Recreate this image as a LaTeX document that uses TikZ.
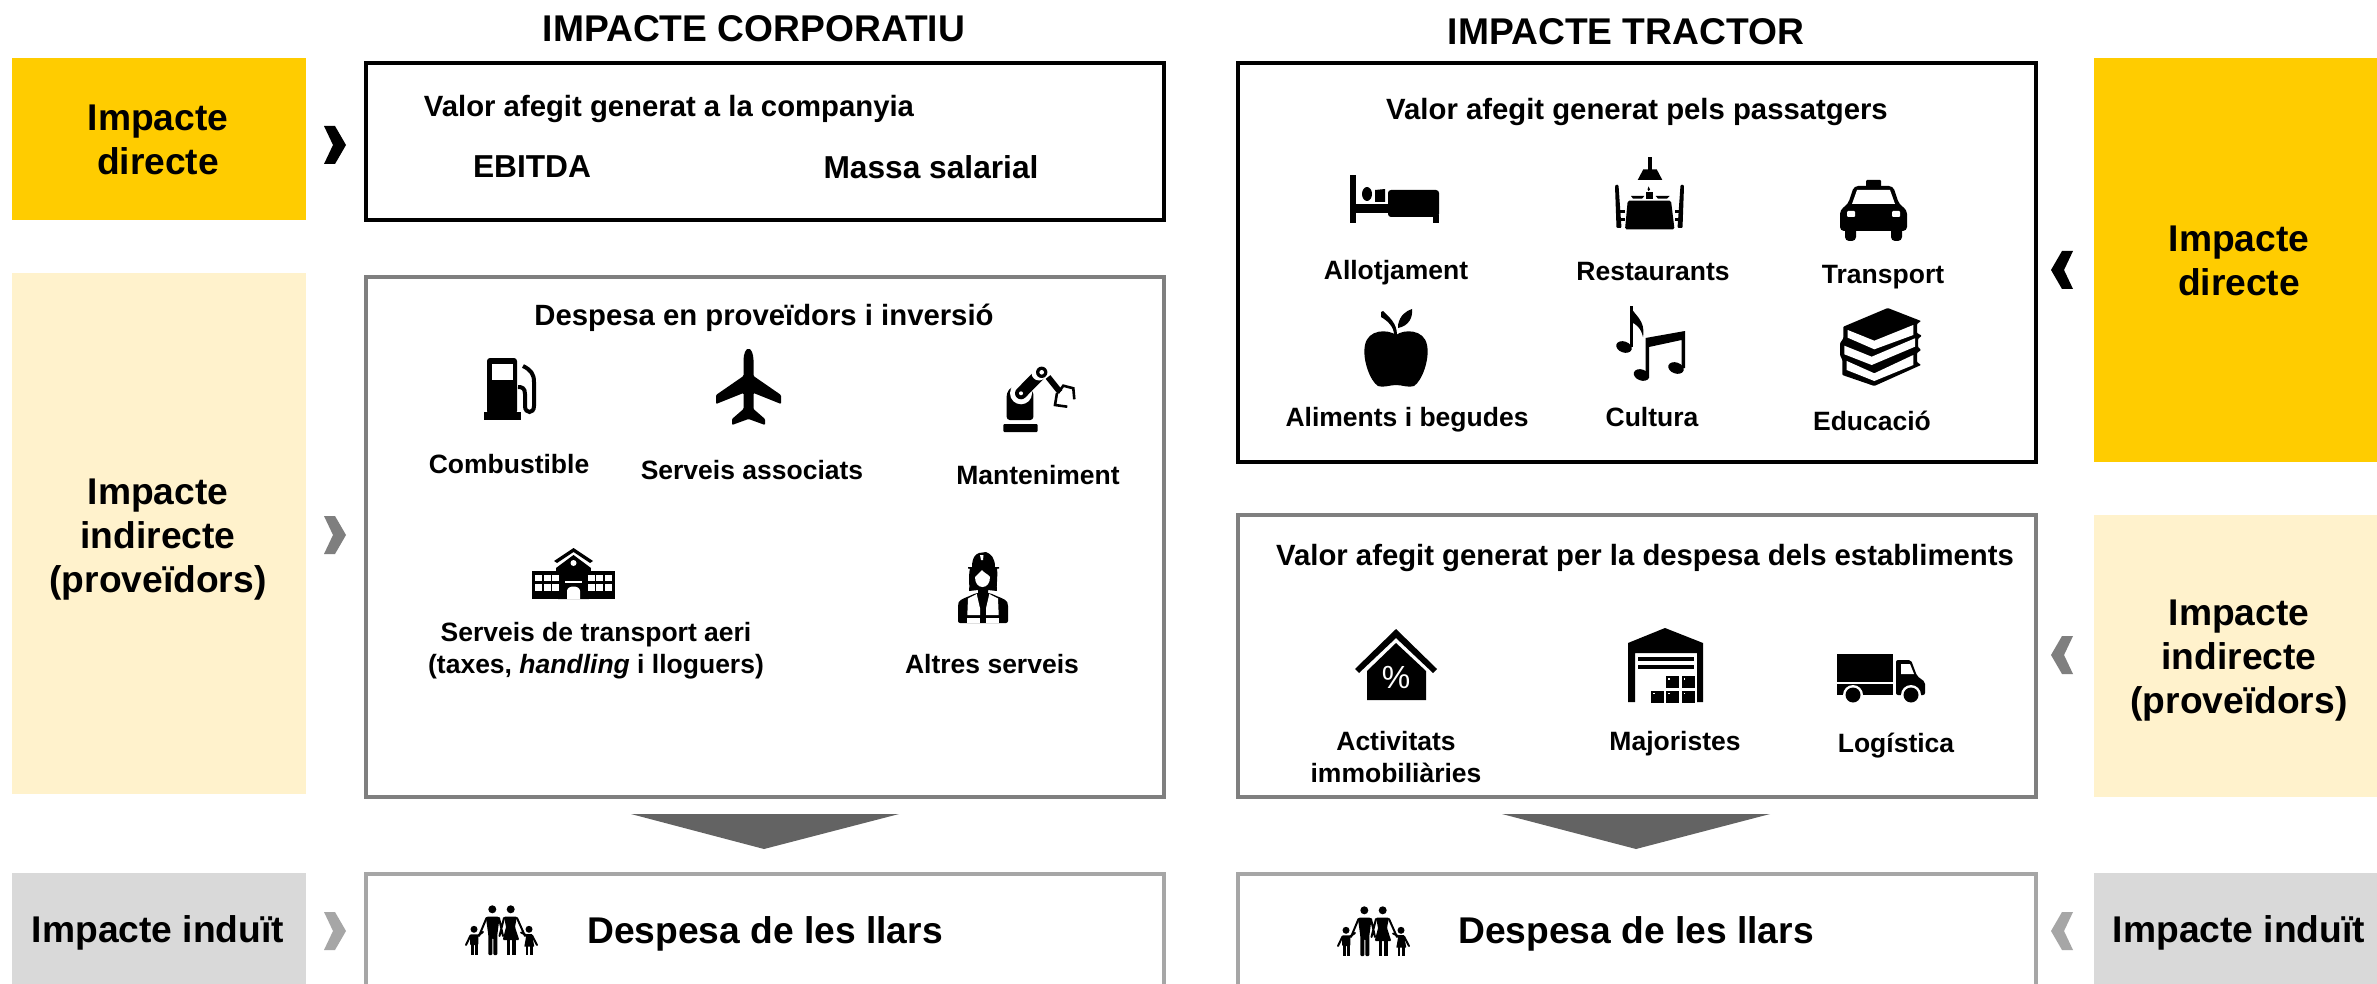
\documentclass[tikz,border=0pt]{standalone}
\usepackage{fontspec}
\setmainfont{Liberation Sans}
\definecolor{ycol}{HTML}{FFCC00}
\definecolor{lycol}{HTML}{FFF2CC}
\definecolor{gycol}{HTML}{D9D9D9}
\definecolor{bgray}{HTML}{7F7F7F}
\definecolor{lgray}{HTML}{A6A6A6}
\definecolor{trigray}{HTML}{636363}
\tikzset{
 x=1pt,y=-1pt,
 panel/.style={inner sep=0,outer sep=0,anchor=north west},
 frame/.style={draw,line width=3.7pt,fill=white,inner sep=0,outer sep=0,anchor=north west},
 big/.style={font=\bfseries\fontsize{37.2}{44}\selectfont,inner sep=0,align=center},
 mid/.style={font=\bfseries\fontsize{31.7}{38}\selectfont,inner sep=0,align=center},
 head/.style={font=\bfseries\fontsize{29.3}{34}\selectfont,inner sep=0,align=center},
 lab/.style={font=\bfseries\fontsize{26.5}{32}\selectfont,inner sep=0,align=center},
 tri/.style={fill=trigray},
 chevr/.pic={\path[pic actions] (-11,-19)--(0,-19)--(11,0)--(0,19)--(-11,19)--(-2,0)--cycle;},
 bedicon/.pic={
  \fill (0,0) rectangle (6,48);
  \fill (6,29) rectangle (38,38);
  \fill (17,19) ellipse [x radius=5,y radius=7];
  \fill (25,15) -- (35,14) -- (35,27) -- (25,27) -- cycle;
  \fill[rounded corners=3] (38,15) -- (89,15) -- (89,42) -- (38,42) -- cycle;
  \fill (83,40) rectangle (89,48);
 },
 resticon/.pic={
  \fill (33.3,0) rectangle (36.7,13);
  \fill (28.3,12.3) -- (41.7,12.3) -- (47.3,23) -- (22.7,23) -- cycle;
  \fill (33.5,29.5) -- (35,32.5) -- (33.5,34) -- (32.5,32.5) -- cycle;
  \fill (31,35.3) rectangle (38,42.3);
  \fill (16,39) -- (29.3,39) -- (27,41.7) -- (18,41.7) -- cycle;
  \fill (40.7,39) -- (54.7,39) -- (52,41.7) -- (43,41.7) -- cycle;
  \fill[rounded corners=1.5] (12.7,43.7) -- (56,43.7) -- (59.5,72.3) -- (10,72.3) -- cycle;
  \foreach \mx in {0,1}{
   \begin{scope}[shift={(\mx*69,0)},xscale=1-2*\mx]
    \fill[rounded corners=1] (0,29) -- (1,27.5) -- (3.5,28) -- (6.5,71) -- (1.5,71) -- cycle;
    \fill (3,53) rectangle (9.5,56);
    \fill (3,61) rectangle (9.5,64.5);
   \end{scope}
  }
 },
 taxiicon/.pic={
  \fill[rounded corners=1] (26,0) rectangle (41,8);
  \fill[rounded corners=4] (14,6) -- (53,6) -- (59,24) -- (67,30) -- (67,51) -- (0,51) -- (0,30) -- (8,24) -- cycle;
  \fill[rounded corners=4] (5,45) rectangle (16,61);
  \fill[rounded corners=4] (51,45) rectangle (62,61);
  \fill[white] (17,10) -- (50,10) -- (55,24) -- (12,24) -- cycle;
  \fill[white,rounded corners=1] (7,31) rectangle (15,37);
  \fill[white,rounded corners=1] (52,31) rectangle (60,37);
 },
 appleicon/.pic={
  \fill (32,26) .. controls (40,20) and (60,20) .. (63,36) .. controls (66,50) and (58,72) .. (50,77) .. controls (45,79) and (38,76) .. (32,76) .. controls (26,76) and (19,79) .. (14,77) .. controls (6,72) and (-2,50) .. (1,36) .. controls (4,20) and (24,20) .. (32,26) -- cycle;
  \fill (34,16) .. controls (36,6) and (42,2) .. (48,0) .. controls (49,8) and (45,17) .. (34,19) -- cycle;
  \fill (17,3) -- (19,2) .. controls (25,8) and (33,14) .. (33,26) -- (30,26) .. controls (30,18) and (24,12) .. (17,8) -- cycle;
 },
 notesicon/.pic={
  \fill[rotate around={-20:(8,41)}] (8,41) ellipse [x radius=8,y radius=5.5];
  \fill (13.5,0) rectangle (16.5,41);
  \fill (14,0) .. controls (18,9) and (30,14) .. (27,31) .. controls (25,22) and (20,18) .. (15,16) -- cycle;
  \fill[rotate around={-20:(25.5,69)}] (25.5,69) ellipse [x radius=8,y radius=5.5];
  \fill[rotate around={-20:(60,62)}] (60,62) ellipse [x radius=8,y radius=5.5];
  \fill (29.5,32) -- (69,25) -- (69,62) -- (65.5,62) -- (65.5,34) -- (33,41) -- (33,69) -- (29.5,69) -- cycle;
 },
 booksicon/.pic={
  \fill[rounded corners=0.8] (46.7,0) -- (80,13) -- (76,16) -- (76,25) -- (80.7,27.7) -- (77,31) -- (77,39) -- (80,42) -- (76,45) -- (76,54) -- (80,57) -- (33.3,78) -- (1.3,67) -- (1.3,52) -- (-1,47) -- (-1,35.3) -- (2.3,30.3) -- (2.3,18.7) -- cycle;
  \fill[white] (6.7,22) -- (33.3,32.7) -- (72.3,17) -- (72.3,27) -- (33.3,41.3) -- (6.7,29.7) -- cycle;
  \fill[white] (3.3,37.7) -- (30.7,48.7) -- (74,30.3) -- (74,38.7) -- (30.7,57) -- (3.3,46.3) -- cycle;
  \fill[white] (5.7,53) -- (33.3,65.3) -- (72.3,47) -- (72.3,57) -- (33.3,73) -- (5.7,62) -- cycle;
 },
 pumpicon/.pic={
  \fill (0,54) rectangle (37,62);
  \fill[rounded corners=3] (3,56) -- (3,0) -- (33,0) -- (33,56) -- cycle;
  \fill[white] (8,6) rectangle (29,22);
  \draw[line width=4pt] (39,8) .. controls (47,12) and (50,16) .. (50,24) -- (50,48) .. controls (50,56) and (41,56) .. (41,48) -- (41,36) .. controls (41,30) and (38,29) .. (34,29);
 },
 planeicon/.pic={
  \fill[rounded corners=1] (27.5,12) .. controls (27.5,5) and (30,0) .. (32.5,0) .. controls (35,0) and (37.5,5) .. (37.5,12) -- (37.5,27) -- (65,46) -- (65,55) -- (37.5,44) -- (37.5,60) -- (49,70) -- (49,76) -- (32.5,70) -- (16,76) -- (16,70) -- (27.5,60) -- (27.5,44) -- (0,55) -- (0,46) -- (27.5,27) -- cycle;
 },
 roboticon/.pic={
  \fill[rounded corners=1] (0.3,57) rectangle (34.7,65);
  \fill[rounded corners=3] (3.7,53) -- (3.7,26) -- (8,20) -- (30.3,24) -- (30.3,53) -- cycle;
  \fill[white] (18,26.3) circle (11);
  \fill[white] (30,18) -- (38.7,5.3) -- (38,22) -- cycle;
  \draw[line width=12pt,line cap=round] (18,26.3) -- (36,8);
  \fill[white] (36,6) circle (7.5);
  \fill (38.7,5.3) circle (5.7);
  \fill[white] (38.7,5.3) circle (2.3);
  \fill[white] (18,26.3) circle (2);
  \draw[line width=6pt] (45,10) -- (57,25);
  \draw[line width=2.6pt] (55,26) -- (60.3,18.7) -- (70.3,21.3) -- (71.3,32.3);
  \draw[line width=2.6pt] (54,26) -- (52,38) -- (64.3,39.7);
 },
 schoolicon/.pic={
  \fill (41.5,0) -- (61,13) -- (58,15) -- (41.5,4) -- (25,15) -- (22,13) -- cycle;
  \fill (41.5,7) -- (59,20) -- (57,51) -- (26,51) -- (24,20) -- cycle;
  \fill (0,23) rectangle (83,51);
  \fill[white] (41.5,15) circle (3);
  \fill[white] (33,33) rectangle (50,35);
  \fill[white] (35,51) -- (35,43) .. controls (35,37) and (48,37) .. (48,43) -- (48,51) -- cycle;
  \foreach \xx in {3,12,20,56,64,73}{
   \fill[white] (\xx,27) rectangle +(7,6);
   \fill[white] (\xx,36) rectangle +(7,7);
  }
 },
 workericon/.pic={
  \fill (14,15) .. controls (14,5) and (18,2) .. (21,1) -- (28,0) .. controls (33,2) and (37,6) .. (37,15) -- (41,15) -- (41,16.5) -- (30,18) -- (20,18) -- (10,16.5) -- (10,15) -- cycle;
  \fill[white] (22,3) -- (25.5,3) -- (25,8) -- (23,8) -- cycle;
  \fill (12,16) .. controls (10,26) and (12,34) .. (11,39) -- (20,38) -- (20,42) -- (30,42) -- (30,38) -- (39,39) .. controls (38,34) and (40,26) .. (39,16) -- cycle;
  \fill[white] (17,25) .. controls (19,22) and (22,21) .. (24,18) .. controls (26,21) and (30,22) .. (32,25) .. controls (32,31) and (29,35) .. (24.5,35) .. controls (20,35) and (17,31) .. (17,25) -- cycle;
  \fill[rounded corners=2] (0,71) -- (0,52) .. controls (2,47) and (10,45) .. (18,41) -- (32,41) .. controls (40,45) and (48,47) .. (50,52) -- (50,71) -- cycle;
  \fill[white] (18.7,42) -- (10,46.5) -- (9.3,63) -- (22,63) -- (22,56.3) -- cycle;
  \fill[white] (31.3,42) -- (40,46.5) -- (40.7,63) -- (28,63) -- (28,56.3) -- cycle;
  \fill[white] (9.3,66) rectangle (22,71);
  \fill[white] (28,66) rectangle (40.7,71);
 },
 houseicon/.pic={
  \fill (41,0) -- (82,40) -- (78,44) -- (41,9) -- (4,44) -- (0,40) -- cycle;
  \fill (41,14) -- (71,42) -- (71,71) -- (12,71) -- (12,42) -- cycle;
  \node[inner sep=0,text=white,font=\fontsize{32}{32}\selectfont] (pct) at (41,48) {\%};
 },
 whouseicon/.pic={
  \fill (0,15) -- (37,0) -- (75,15) -- (75,74) -- (69,74) -- (69,25) -- (7,25) -- (7,74) -- (0,74) -- cycle;
  \fill (10,29) rectangle (66,33);
  \fill (10,37) rectangle (66,41);
  \foreach \bx/\by in {38/48,53.5/48,23/62.5,38/62.5,53.5/62.5}{
   \fill (\bx,\by) rectangle +(13,12);
   \fill[white] (\bx+2,\by+2) rectangle +(1.5,1.5);
  }
 },
 truckicon/.pic={
  \fill (0,0) rectangle (56,28);
  \fill (0,29.5) rectangle (56,41);
  \fill[rounded corners=2] (59,6) -- (74,6) -- (80,22) -- (88,28) -- (88,41) -- (59,41) -- cycle;
  \fill[white] (64,10) -- (73,10) -- (77,20) -- (64,20) -- cycle;
  \fill[white] (16,41) circle (10);
  \fill (16,41) circle (7.5);
  \fill[white] (74,41) circle (10);
  \fill (74,41) circle (7.5);
 },
 familyicon/.pic={
  \fill (27.3,4.3) circle (4);
  \fill (45.7,4.3) circle (4);
  \fill (9,24.3) circle (3.5);
  \fill (64,24.3) circle (3.5);
  \fill[rounded corners=1] (22,11.5) -- (33,11.5) -- (34.5,13) -- (32.3,30) -- (32.3,50) -- (28.3,50) -- (28.3,33) -- (27.3,33) -- (27.3,50) -- (23.3,50) -- (23.3,30) -- (21,13) -- cycle;
  \draw[line width=2pt,line cap=round] (21.5,13) -- (14,31) (34,13) -- (38,31) (39,13) -- (34.5,31) (52,13) -- (60,31);
  \fill[rounded corners=1] (39,11.5) -- (52,11.5) -- (50,22) -- (54.3,35) -- (37.7,35) -- (41,22) -- cycle;
  \fill (41.7,34) rectangle (45,50);
  \fill (47.3,34) rectangle (50.7,50);
  \fill[rounded corners=1] (5,29.3) -- (13.3,29.3) -- (13.3,40) -- (5,40) -- cycle;
  \fill (6,39) rectangle (9,50);
  \fill (10,39) rectangle (13.3,50);
  \draw[line width=2pt,line cap=round] (5.5,30.5) -- (1,40) (13,30.5) -- (18,27);
  \fill[rounded corners=0.5] (61.5,29) -- (67,29) -- (69.3,41.7) -- (59.3,41.7) -- cycle;
  \fill (60.7,41) rectangle (63.3,50);
  \fill (65,41) rectangle (67.7,50);
  \draw[line width=2pt,line cap=round] (62,30.5) -- (56,27.5) (67,30.5) -- (72,40);
 },
}
\begin{document}
\begin{tikzpicture}
\useasboundingbox (0,0) rectangle (2377,984);
\fill[white] (0,0) rectangle (2377,984);
\clip (0,0) rectangle (2377,984);
% titles
\node[big] (t1) at (754,29) {IMPACTE CORPORATIU};
\node[big] (t2) at (1626,32) {IMPACTE TRACTOR};
% side panels
\node[panel,fill=ycol,minimum width=294pt,minimum height=162pt] (p1) at (12,58) {};
\node[panel,fill=lycol,minimum width=294pt,minimum height=521pt] (p2) at (12,273) {};
\node[panel,fill=gycol,minimum width=294pt,minimum height=111pt] (p3) at (12,873) {};
\node[panel,fill=ycol,minimum width=283pt,minimum height=404pt] (q1) at (2094,58) {};
\node[panel,fill=lycol,minimum width=283pt,minimum height=282pt] (q2) at (2094,515) {};
\node[panel,fill=gycol,minimum width=283pt,minimum height=111pt] (q3) at (2094,873) {};
\node[big] (pt1) at (158,140) {Impacte\\directe};
\node[big] (pt2) at (158,539.5) {Impacte\\indirecte\\(proveïdors)};
\node[big] (pt3) at (158,933) {Impacte induït};
\node[big] (qt1) at (2239,261) {Impacte\\directe};
\node[big] (qt2) at (2239,660.5) {Impacte\\indirecte\\(proveïdors)};
\node[big] (qt3) at (2239,933) {Impacte induït};
% frames
\node[frame,draw=black,minimum width=798pt,minimum height=157pt] (b1) at (366,63) {};
\node[frame,draw=bgray,minimum width=798pt,minimum height=520pt] (b2) at (366,277) {};
\node[frame,draw=lgray,minimum width=798pt,minimum height=150pt] (b3) at (366,874) {};
\node[frame,draw=black,minimum width=798pt,minimum height=399pt] (c1) at (1238,63) {};
\node[frame,draw=bgray,minimum width=798pt,minimum height=282pt] (c2) at (1238,515) {};
\node[frame,draw=lgray,minimum width=798pt,minimum height=150pt] (c3) at (1238,874) {};
% chevrons
\pic[fill=black] (ch1) at (335,145) {chevr};
\pic[fill=bgray] (ch2) at (335,535) {chevr};
\pic[fill=lgray] (ch3) at (335,931) {chevr};
\pic[fill=black,xscale=-1] (ch4) at (2062,270) {chevr};
\pic[fill=bgray,xscale=-1] (ch5) at (2062,655) {chevr};
\pic[fill=lgray,xscale=-1] (ch6) at (2062,931) {chevr};
% down triangles
\fill[tri] (631,814) -- (899,814) -- (764,849) -- cycle;
\fill[tri] (1502,814) -- (1770,814) -- (1636,849) -- cycle;
% left texts
\node[head] (v1) at (669,109) {Valor afegit generat a la companyia};
\node[mid] (e1) at (532,167) {EBITDA};
\node[mid] (m1) at (931,167) {Massa salarial};
\node[head] (d1) at (764,318) {Despesa en proveïdors i inversió};
\node[lab] (l1) at (509,464) {Combustible};
\node[lab] (l2) at (752,470) {Serveis associats};
\node[lab] (l3) at (1038,475) {Manteniment};
\node[lab] (l4) at (596,651) {Serveis de transport aeri\\(taxes, \textit{handling} i lloguers)};
\node[lab] (l5) at (992,664) {Altres serveis};
\node[big] (h1) at (765,934) {Despesa de les llars};
% right texts
\node[head] (v2) at (1637,112) {Valor afegit generat pels passatgers};
\node[lab] (r1) at (1396,273) {Allotjament};
\node[lab] (r2) at (1653,272) {Restaurants};
\node[lab] (r3) at (1883,277) {Transport};
\node[lab] (r4) at (1407,420) {Aliments i begudes};
\node[lab] (r5) at (1652,417) {Cultura};
\node[lab] (r6) at (1872,421) {Educació};
\node[head] (v3) at (1645,558) {Valor afegit generat per la despesa dels establiments};
\node[lab] (s1) at (1396,757) {Activitats\\immobiliàries};
\node[lab] (s2) at (1675,744) {Majoristes};
\node[lab] (s3) at (1896,746) {Logística};
\node[big] (h2) at (1636,934) {Despesa de les llars};
% icons
\pic (bed) at (1350,175) {bedicon};
\pic (rest) at (1615,157) {resticon};
\pic (taxi) at (1840,180) {taxiicon};
\pic (apple) at (1364,309) {appleicon};
\pic (notes) at (1616,306) {notesicon};
\pic (books) at (1841,308) {booksicon};
\pic (pump) at (484,358) {pumpicon};
\pic (plane) at (716,349) {planeicon};
\pic (robot) at (1003,367) {roboticon};
\pic (school) at (532,548) {schoolicon};
\pic (worker) at (958,552) {workericon};
\pic (house) at (1355,629) {houseicon};
\pic (whouse) at (1628,628) {whouseicon};
\pic (truck) at (1837,654) {truckicon};
\pic (fam1) at (465,905) {familyicon};
\pic (fam2) at (1337,906) {familyicon};
\end{tikzpicture}
\end{document}
